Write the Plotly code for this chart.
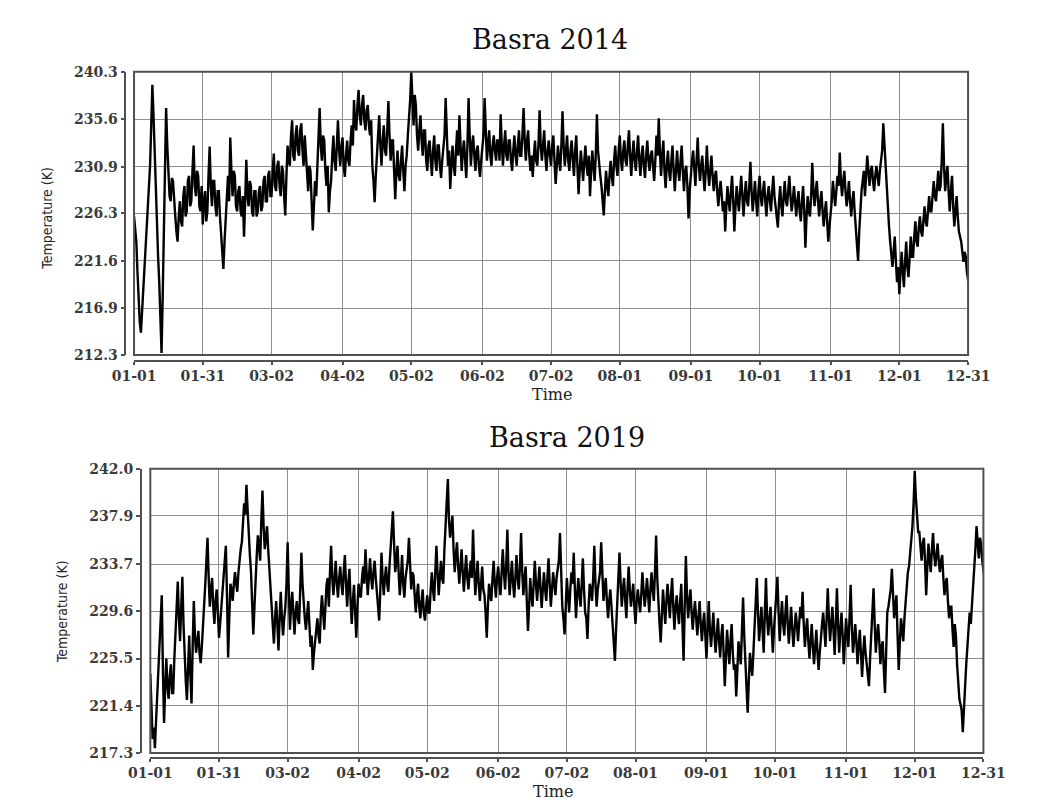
import pandas as pd
import plotly.graph_objects as go

# Upper-air temperature (K) over Basra, two soundings per day (00 and 12 UTC)
temp_2014_00z = [
    226.0, 223.5, 217.5, 214.5, 219.0, 222.5, 226.5, 231.0, 239.0, 232.0,
    225.0, 219.5, 212.5, 224.0, 236.7, 230.5, 227.5, 229.5, 226.0, 223.5,
    227.5, 225.0, 229.0, 226.5, 230.0, 227.5, 233.0, 228.0, 230.0, 226.5,
    225.2, 228.5, 226.5, 232.9, 227.0, 229.5, 226.0, 228.5, 224.0, 220.8,
    226.0, 230.0, 233.8, 228.0, 230.0, 226.5, 229.0, 226.0, 224.0, 231.6,
    227.0, 229.0, 226.0, 228.5, 226.5, 229.0, 227.0, 230.0, 227.5, 230.5,
    228.0, 232.2, 228.5, 231.5, 228.0, 230.5, 226.1, 233.0, 231.0, 235.5,
    231.5, 235.0, 232.0, 235.2, 231.0, 232.5, 228.5, 230.5, 224.6, 229.5,
    231.5, 236.7, 231.5, 233.5, 229.0, 226.4, 229.5, 234.0, 230.5, 235.5,
    231.0, 233.8, 229.9, 233.5, 231.0, 235.0, 237.5, 234.5, 238.5, 235.0,
    238.0, 234.5, 237.0, 234.0, 231.0, 227.4, 232.5, 236.0, 231.0, 235.0,
    232.0, 237.4, 231.5, 233.5, 227.7, 232.5, 229.5, 233.0, 228.5, 232.0,
    235.5, 240.3, 235.0, 237.0, 232.5, 236.0, 232.0, 234.5, 230.5, 233.5,
    230.0, 234.0, 230.5, 233.0, 229.8, 232.5, 237.7, 231.0, 228.7, 233.0,
    230.0, 234.5, 236.0, 230.5, 233.5, 229.8, 237.7, 231.0, 234.0, 230.5,
    233.0, 229.9, 232.5, 237.7, 231.5, 234.5, 231.0, 234.0, 231.5, 233.5,
    236.1, 231.0, 234.5, 231.5, 233.5, 230.5, 234.0, 231.0, 234.5, 232.0,
    236.7, 231.5, 234.5, 230.5, 229.9, 233.5, 231.0, 236.5, 231.5, 234.5,
    230.5, 233.5, 231.0, 234.0, 229.2, 233.0, 230.5, 236.4, 231.0, 234.0,
    230.5, 233.5, 230.0, 234.0, 228.2, 232.5, 229.5, 233.0, 230.0, 228.0,
    232.5, 229.5, 236.1, 231.0, 229.0, 226.1, 230.5, 228.0, 231.5, 229.0,
    233.0, 230.0, 234.0, 230.5, 233.5, 231.0, 234.5, 230.0, 233.5, 230.5,
    234.0, 230.0, 233.0, 229.8, 233.5, 230.5, 232.5, 229.5, 234.0, 235.7,
    230.0, 233.5, 228.8, 232.5, 229.5, 233.0, 228.5, 232.5, 229.5, 233.0,
    228.5, 231.0, 225.8, 230.5, 232.5, 229.0, 233.8, 229.5, 232.0, 228.5,
    233.0, 229.0, 232.0, 228.5, 230.5, 227.0, 229.5, 226.5, 224.5, 229.0,
    226.5, 230.0, 224.5, 229.0, 226.5, 230.0, 226.0, 229.5, 227.0, 231.4,
    226.5, 229.5, 226.0, 230.0, 227.0, 229.5, 226.0, 229.0, 226.5, 230.0,
    227.0, 224.9, 229.0, 226.0, 229.5, 227.0, 230.0, 226.5, 229.0, 226.0,
    228.5, 225.5, 229.0, 222.9, 228.0, 226.0, 231.3, 227.0, 229.5, 226.0,
    228.5, 225.0, 227.5, 223.5, 226.0, 229.5, 227.0, 230.0, 232.3, 228.0,
    230.5, 227.0, 229.5, 226.0, 228.5, 225.0, 221.6, 227.0, 229.5, 228.0,
    232.0, 229.0, 231.0, 228.5, 231.0, 229.0, 231.5, 235.2, 231.0, 227.0,
    223.5, 221.0, 224.0, 219.5, 218.3, 222.5, 219.0, 223.5, 220.0, 224.0,
    222.0, 225.5, 223.0, 226.0, 224.0, 227.0, 225.0, 228.0, 226.5, 229.5,
    227.5, 230.5, 229.0, 235.2, 228.5, 231.0, 226.5, 230.0, 225.0, 228.0,
    224.5, 223.5, 221.5, 222.0, 219.5,
]
temp_2014_12z = [
    225.0, 220.5, 215.5, 216.5, 221.0, 224.0, 228.5, 235.0, 236.0, 228.0,
    222.0, 216.0, 218.0, 230.0, 233.0, 228.0, 229.8, 227.0, 224.5, 226.0,
    225.5, 228.0, 226.0, 229.5, 227.0, 230.5, 229.0, 230.5, 227.0, 229.0,
    227.5, 225.5, 230.0, 229.0, 229.5, 227.0, 228.5, 226.0, 222.5, 223.5,
    228.5, 227.5, 230.5, 230.5, 227.0, 228.5, 226.5, 228.0, 227.5, 228.0,
    229.5, 226.5, 228.5, 226.0, 228.5, 226.5, 229.5, 227.5, 230.0, 228.0,
    230.5, 229.0, 231.0, 229.0, 231.0, 228.0, 230.0, 231.5, 234.0, 232.0,
    234.0, 232.5, 234.5, 232.5, 234.0, 230.0, 231.0, 227.5, 227.0, 228.0,
    233.5, 233.0, 234.0, 230.5, 231.0, 228.5, 232.0, 231.5, 233.0, 232.5,
    233.0, 231.0, 232.0, 231.5, 233.5, 233.0, 235.0, 237.0, 236.0, 237.0,
    235.5, 236.5, 235.0, 235.5, 229.5, 230.0, 234.0, 233.0, 233.5, 232.5,
    234.5, 234.0, 233.5, 230.5, 230.5, 230.0, 231.5, 230.5, 231.0, 234.0,
    237.5, 237.0, 238.0, 234.0, 234.5, 233.5, 234.5, 231.5, 233.0, 231.5,
    232.5, 231.5, 233.0, 231.0, 231.5, 234.0, 233.0, 232.5, 231.0, 231.0,
    232.5, 232.0, 233.0, 232.5, 231.5, 233.0, 234.0, 233.0, 232.0, 232.5,
    231.0, 231.5, 234.0, 233.5, 233.0, 232.0, 233.0, 232.5, 233.5, 231.5,
    233.0, 233.0, 232.0, 233.5, 231.5, 232.5, 232.0, 233.0, 232.0, 234.0,
    233.5, 233.5, 232.0, 232.0, 232.0, 231.5, 233.0, 233.0, 233.0, 232.0,
    232.5, 232.0, 233.0, 231.5, 231.0, 231.5, 233.0, 233.0, 232.5, 231.5,
    232.5, 231.5, 232.5, 231.0, 230.5, 231.0, 231.5, 231.0, 232.0, 230.5,
    231.0, 232.0, 232.5, 230.0, 227.5, 228.5, 229.0, 230.0, 230.0, 231.5,
    231.0, 232.5, 231.5, 232.5, 231.5, 233.0, 232.0, 232.0, 231.5, 232.5,
    231.5, 232.0, 231.0, 232.0, 231.5, 232.0, 231.0, 231.5, 232.0, 232.5,
    232.0, 230.5, 231.0, 230.5, 231.5, 230.5, 230.5, 230.5, 231.5, 230.5,
    230.5, 229.0, 228.5, 231.5, 230.0, 231.5, 231.0, 231.0, 230.0, 230.5,
    230.5, 230.5, 230.0, 230.0, 228.5, 228.5, 228.0, 227.5, 227.0, 227.5,
    228.5, 227.5, 227.0, 227.5, 228.5, 228.0, 228.0, 227.5, 229.0, 228.5,
    228.0, 227.5, 228.5, 228.0, 228.5, 227.5, 228.0, 227.5, 228.5, 228.0,
    226.5, 227.5, 227.0, 228.0, 227.5, 228.5, 228.0, 227.5, 227.5, 227.5,
    226.5, 227.5, 226.5, 226.0, 226.5, 228.0, 228.5, 228.5, 227.5, 227.5,
    226.5, 226.5, 225.5, 225.0, 227.5, 228.0, 228.5, 229.0, 229.5, 229.5,
    228.5, 228.0, 227.5, 227.5, 226.5, 223.5, 224.5, 228.5, 230.5, 230.0,
    230.5, 230.5, 229.5, 230.0, 230.0, 230.5, 232.5, 233.0, 229.0, 225.0,
    222.0, 222.5, 221.5, 221.0, 220.5, 220.5, 221.5, 221.0, 222.0, 222.0,
    224.0, 223.5, 225.0, 224.5, 225.5, 225.5, 226.5, 226.5, 228.0, 228.0,
    229.0, 228.5, 231.5, 231.0, 230.0, 228.5, 228.5, 227.0, 226.5, 226.0,
    224.0, 222.5, 222.5, 220.5, 219.0,
]

temp_2019_00z = [
    224.2, 218.5, 217.7, 222.5, 226.0, 231.0, 219.9, 225.5, 222.0, 225.0,
    222.5, 228.0, 232.2, 227.0, 232.6, 225.0, 221.9, 227.5, 221.6, 230.5,
    226.0, 227.9, 225.1, 228.0, 231.9, 236.0, 230.0, 232.5, 228.5, 231.5,
    227.3, 230.0, 233.0, 235.3, 225.6, 232.0, 230.5, 233.0, 231.3, 234.2,
    235.6, 239.0, 240.6, 236.0, 233.0, 227.6, 233.0, 236.2, 234.0, 240.1,
    235.0, 237.0, 233.3, 230.0, 226.8, 230.5, 226.2, 231.3, 227.5, 230.0,
    235.6, 228.0, 231.3, 227.6, 230.5, 228.5, 234.7, 230.0, 228.0, 230.5,
    226.5, 224.5, 227.0, 229.0, 226.8, 231.0, 228.0, 231.9, 230.0, 235.3,
    231.0, 234.0, 230.8, 233.5, 231.0, 234.5, 230.0, 233.3, 228.5, 231.9,
    227.3, 232.0, 230.8, 233.5, 235.0, 231.0, 234.2, 231.5, 234.0, 231.3,
    228.8, 234.7, 231.0, 233.5, 231.3, 235.0, 238.3, 233.0, 235.3, 231.0,
    234.5, 230.8, 233.5, 236.0, 231.5, 232.7, 229.5, 232.0, 229.0, 231.5,
    228.8, 231.0, 229.5, 233.0, 230.5, 235.3, 231.0, 234.0, 232.0, 237.5,
    241.1, 236.0, 237.9, 233.0, 235.6, 232.0, 235.0, 231.3, 234.5, 231.5,
    234.0, 236.7, 231.0, 234.0, 230.5, 233.5, 231.0, 227.3, 232.0, 230.5,
    234.0, 230.8, 233.5, 231.0, 235.0, 231.5, 236.7, 231.0, 234.0, 230.8,
    234.5, 231.5, 236.4, 231.0, 233.5, 227.9, 232.5, 230.0, 234.0, 230.5,
    233.5, 229.9, 233.0, 230.5, 234.2, 230.0, 233.0, 231.0, 233.5, 236.4,
    230.0, 227.6, 232.5, 229.5, 233.0, 234.7, 229.0, 232.5, 230.0, 234.2,
    229.5, 227.2, 232.0, 230.5, 235.3, 230.0, 232.5, 235.6, 230.5, 232.5,
    229.0, 231.5, 228.5, 225.3, 230.5, 234.7, 230.0, 232.5, 229.0, 233.5,
    230.0, 232.0, 228.5, 231.5, 229.5, 233.0, 230.0, 232.5, 229.5, 233.0,
    230.5, 236.2, 230.0, 226.9, 231.5, 228.5, 232.0, 229.0, 232.5, 228.0,
    231.0, 228.5, 232.0, 225.3, 234.4, 229.0, 231.5, 228.0, 230.5, 227.5,
    230.5, 227.0, 229.5, 225.5, 230.5, 226.5, 229.5, 226.0, 229.0, 225.6,
    228.5, 223.1, 228.0, 225.0, 228.5, 224.5, 222.2, 227.0, 225.0, 230.8,
    225.5, 220.8, 226.0, 224.0, 228.5, 232.5, 227.0, 230.0, 226.0, 232.5,
    227.5, 230.0, 226.0, 229.5, 232.6, 227.0, 230.5, 227.5, 231.0, 226.8,
    230.0, 226.5, 229.5, 227.0, 230.0, 231.3, 226.5, 229.0, 225.5, 228.5,
    225.0, 228.0, 224.5, 227.5, 229.5, 226.5, 231.6, 227.0, 230.0, 225.8,
    231.6, 226.0, 229.5, 225.0, 229.0, 226.5, 231.9, 226.0, 228.5, 225.0,
    228.0, 223.9, 227.5, 225.0, 223.1, 228.0, 231.6, 226.0, 228.5, 225.0,
    227.0, 222.5, 229.5, 231.0, 233.3, 229.0, 231.0, 224.5, 229.0, 227.0,
    230.5, 233.0, 234.5, 237.0, 241.8, 238.0, 236.5, 234.0, 236.0, 231.0,
    235.5, 233.0, 236.4, 233.5, 235.5, 233.0, 234.5, 231.0, 232.5, 229.0,
    230.0, 226.5, 227.5, 223.0, 221.5, 219.1, 224.0, 226.5, 229.5, 230.0,
    233.5, 237.0, 234.2, 235.5, 233.0,
]
temp_2019_12z = [
    221.0, 219.5, 220.0, 224.0, 229.0, 224.5, 223.0, 223.0, 224.0, 222.5,
    225.5, 230.5, 229.0, 230.0, 228.5, 223.5, 225.0, 224.0, 226.5, 227.5,
    227.0, 226.0, 226.5, 230.0, 234.0, 232.5, 231.5, 230.0, 230.5, 229.5,
    228.5, 231.5, 234.0, 231.0, 229.0, 231.5, 232.0, 232.0, 233.0, 235.0,
    237.5, 238.0, 238.5, 234.5, 230.5, 230.0, 234.5, 235.0, 237.5, 237.0,
    236.0, 235.0, 231.5, 228.0, 229.0, 228.5, 229.0, 229.0, 229.0, 232.0,
    231.5, 230.0, 229.5, 229.5, 229.0, 231.5, 232.0, 229.0, 229.5, 228.5,
    227.5, 226.0, 228.5, 227.5, 229.5, 229.5, 230.0, 232.5, 233.0, 232.5,
    232.5, 232.0, 232.5, 232.0, 233.0, 232.0, 232.0, 230.5, 230.5, 229.5,
    230.0, 231.0, 232.5, 232.0, 233.0, 232.5, 232.5, 233.0, 232.5, 230.5,
    231.5, 232.5, 232.5, 232.0, 233.5, 236.0, 235.5, 234.0, 233.0, 232.5,
    232.0, 232.5, 234.0, 233.5, 233.0, 231.0, 231.0, 230.0, 230.5, 229.5,
    230.0, 229.5, 231.5, 231.5, 233.0, 233.0, 232.5, 232.5, 235.0, 238.5,
    237.5, 237.0, 235.0, 234.5, 233.5, 233.5, 233.0, 233.0, 232.5, 233.0,
    232.5, 233.5, 232.5, 232.0, 232.0, 231.5, 229.5, 230.0, 231.0, 232.5,
    232.0, 232.5, 232.0, 233.0, 233.0, 233.5, 233.0, 232.5, 232.0, 232.5,
    232.5, 233.5, 233.0, 232.5, 230.5, 230.0, 231.0, 232.0, 232.0, 232.0,
    231.5, 231.5, 231.5, 232.5, 232.0, 231.5, 232.0, 232.5, 234.0, 233.0,
    229.0, 230.0, 231.0, 231.5, 232.0, 231.5, 231.0, 231.0, 232.0, 231.5,
    229.0, 230.0, 231.5, 232.5, 232.0, 231.5, 233.0, 232.5, 231.5, 230.5,
    230.5, 230.0, 227.0, 228.0, 232.0, 232.0, 231.5, 230.5, 231.5, 231.5,
    231.0, 230.0, 230.5, 230.5, 231.0, 231.5, 231.0, 231.0, 231.5, 231.5,
    233.0, 232.5, 228.5, 229.0, 230.0, 230.5, 230.5, 231.0, 230.0, 230.0,
    229.5, 230.5, 228.5, 230.0, 231.0, 230.5, 229.5, 229.5, 229.0, 229.0,
    228.5, 228.5, 227.5, 228.0, 228.0, 228.0, 227.5, 227.5, 227.0, 227.5,
    226.0, 225.5, 226.5, 227.0, 226.0, 225.0, 224.5, 226.0, 228.0, 227.5,
    223.0, 223.5, 225.0, 226.0, 230.5, 229.5, 228.5, 228.0, 229.5, 229.0,
    229.0, 228.0, 228.0, 230.5, 229.5, 229.0, 228.5, 229.5, 228.5, 228.5,
    228.0, 228.0, 228.5, 228.5, 229.0, 228.5, 228.0, 227.0, 227.0, 226.5,
    226.5, 226.0, 226.0, 228.5, 228.0, 229.0, 229.0, 228.5, 228.0, 228.5,
    228.5, 228.0, 227.5, 227.0, 227.5, 229.0, 228.5, 227.0, 227.0, 226.5,
    226.0, 226.0, 226.0, 224.5, 225.5, 229.5, 228.5, 227.5, 227.0, 226.5,
    224.5, 226.0, 230.0, 231.5, 231.0, 230.0, 227.5, 227.0, 228.0, 229.0,
    231.5, 233.5, 235.5, 239.0, 239.5, 236.5, 235.0, 235.5, 234.0, 233.5,
    234.0, 235.0, 234.5, 234.5, 234.0, 234.0, 232.5, 232.0, 230.5, 230.0,
    228.0, 228.5, 225.0, 222.0, 221.0, 221.5, 225.0, 228.0, 228.5, 231.5,
    235.0, 235.5, 236.0, 234.0, 232.5,
]

tick_labels = ["01-01", "01-31", "03-02", "04-02", "05-02", "06-02", "07-02",
               "08-01", "09-01", "10-01", "11-01", "12-01", "12-31"]
yticks_2014 = [212.3, 216.9, 221.6, 226.3, 230.9, 235.6, 240.3]
yticks_2019 = [217.3, 221.4, 225.5, 229.6, 233.7, 237.9, 242.0]

W, H = 1037, 805


def fx(p):
    return p / W


def fy(p):
    return 1 - p / H


def soundings(year, t00, t12):
    """Merge the 00 UTC and 12 UTC soundings into one time-ordered series."""
    d00 = pd.date_range(f"{year}-01-01 00:00", periods=len(t00), freq="D")
    d12 = pd.date_range(f"{year}-01-01 12:00", periods=len(t12), freq="D")
    s = pd.concat([pd.Series(t00, index=d00), pd.Series(t12, index=d12)])
    return s.sort_index()


s2014 = soundings(2014, temp_2014_00z, temp_2014_12z)
s2019 = soundings(2019, temp_2019_00z, temp_2019_12z)

fig = go.Figure()
fig.add_trace(go.Scatter(x=s2014.index, y=s2014.values, mode="lines",
                         line=dict(color="#000000", width=2.4),
                         xaxis="x", yaxis="y", showlegend=False))
fig.add_trace(go.Scatter(x=s2019.index, y=s2019.values, mode="lines",
                         line=dict(color="#000000", width=2.4),
                         xaxis="x2", yaxis="y2", showlegend=False))

tick_font = dict(family="DejaVu Serif", size=14, color="#3a3a3a", weight="bold")
grid_color = "#8e8e8e"
axis_color = "#505050"


def xaxis_cfg(year, dom, pos):
    return dict(
        type="date", domain=dom, anchor="free", position=pos,
        range=[f"{year - 1}-12-31 23:58", f"{year}-12-31 00:02"],
        tickvals=[f"{year}-{t}" for t in tick_labels], ticktext=tick_labels,
        showline=True, linecolor=axis_color, linewidth=1.5,
        ticks="outside", ticklen=3, tickcolor=axis_color, tickwidth=1.5,
        showgrid=True, gridcolor=grid_color, gridwidth=1,
        zeroline=False, tickfont=tick_font, tickangle=0,
    )


def yaxis_cfg(ticks, dom, pos):
    return dict(
        domain=dom, anchor="free", position=pos,
        range=[ticks[0] - 0.002, ticks[-1] + 0.002],
        tickvals=ticks, ticktext=[f"{v:.1f}" for v in ticks],
        showline=True, linecolor=axis_color, linewidth=1.5,
        ticks="outside", ticklen=4, tickcolor=axis_color, tickwidth=1.5,
        showgrid=True, gridcolor=grid_color, gridwidth=1,
        zeroline=False, tickfont=tick_font,
    )


fig.update_layout(
    width=W, height=H,
    margin=dict(l=0, r=0, t=0, b=0),
    paper_bgcolor="white", plot_bgcolor="white",
    xaxis=xaxis_cfg(2014, [fx(117), fx(988)], fy(360)),
    yaxis=yaxis_cfg(yticks_2014, [fy(354), fy(65)], fx(108)),
    xaxis2=xaxis_cfg(2019, [fx(134), fx(1004)], fy(765)),
    yaxis2=yaxis_cfg(yticks_2019, [fy(760), fy(470)], fx(124)),
)

# plot frames
for xr, yr in (("x domain", "y domain"), ("x2 domain", "y2 domain")):
    fig.add_shape(type="rect", xref=xr, yref=yr, x0=0, x1=1, y0=0, y1=1,
                  line=dict(color=axis_color, width=2), layer="above")

title_font = dict(family="DejaVu Serif", size=27, color="#111111")
label_font = dict(family="DejaVu Serif", size=16, color="#222222")
ytitle_font = dict(family="Liberation Sans Narrow, DejaVu Sans Condensed, Arial Narrow, sans-serif",
                   size=14, color="#222222")

annotations = [
    dict(text="Basra 2014", x=fx(551), y=fy(32), font=title_font),
    dict(text="Basra 2019", x=fx(569), y=fy(438), font=title_font),
    dict(text="Time", x=fx(553), y=fy(394), font=label_font),
    dict(text="Time", x=fx(555), y=fy(799), font=label_font),
    dict(text="Temperature (K)", x=fx(26), y=fy(214), textangle=-90, font=ytitle_font),
    dict(text="Temperature (K)", x=fx(42), y=fy(616), textangle=-90, font=ytitle_font),
]
for a in annotations:
    fig.add_annotation(xref="paper", yref="paper", showarrow=False,
                       xanchor="center", yanchor="middle", **a)

fig.write_html("out.html")
